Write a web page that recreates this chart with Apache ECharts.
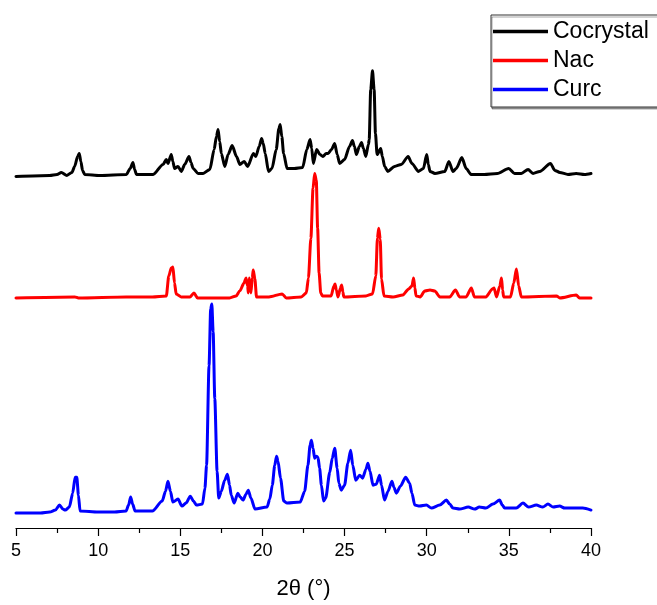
<!DOCTYPE html>
<html>
<head>
<meta charset="utf-8">
<script src="https://cdn.jsdelivr.net/npm/echarts@6/dist/echarts.min.js"></script>
<style>html,body{margin:0;padding:0;background:#fff}#c{width:657px;height:605px}</style>
</head>
<body>
<div id="c"></div>
<script>
// ---- Data (2θ in degrees, intensity in arbitrary units above each trace's baseline) ----
const curcX = [5.0,6.5,7.05,7.4,7.65,7.85,8.0,8.25,8.45,8.6,8.7,8.8,8.9,10.0,11.0,11.7,11.85,11.98,12.1,12.25,13.3,13.9,14.1,14.25,14.4,14.55,14.86,15.1,15.35,15.61,15.8,15.98,16.35,16.5,16.6,16.75,16.85,16.92,17.0,17.1,17.24,17.34,17.5,17.7,17.87,18.0,18.1,18.28,18.5,18.65,18.82,19.0,19.14,19.3,19.55,20.28,20.45,20.6,20.75,20.86,20.95,21.1,21.3,21.5,22.3,22.57,22.77,22.9,22.98,23.08,23.18,23.28,23.38,23.48,23.59,23.72,23.85,24.1,24.25,24.4,24.55,24.65,24.8,25.0,25.2,25.37,25.5,25.68,25.92,26.1,26.3,26.42,26.55,26.73,26.93,27.13,27.25,27.43,27.65,27.88,28.0,28.15,28.4,28.72,28.96,29.1,29.27,29.57,29.98,30.29,30.79,31.2,31.4,31.6,32.0,32.53,32.92,33.2,33.6,34.03,34.44,34.6,34.74,35.45,35.86,36.2,36.67,37.06,37.38,37.7,38.09,38.4,38.92,39.5,40.0];
const curcI = [0,0,1,3,8,4,3,6,20,36,36,18,2,1,1,2,8,16,9,2,2,12,22,32,22,11,14,7,10,17,12,8,9,25,48,148,205,210,182,115,42,15,22,33,39,28,18,10,20,16,13,19,23,15,4,6,14,28,48,57,52,35,12,10,11,22,48,68,73,65,55,57,56,45,28,12,15,41,55,65,45,30,23,28,50,63,48,33,38,35,44,50,42,28,29,38,28,13,22,32,26,20,27,36,30,20,8,7,8,5,8,13,9,5,4,6,4,6,5,9,13,8,5,5,10,6,8,6,9,6,7,5,5,5,3];

const nacX = [5.0,8.58,8.8,11.7,13.3,14.15,14.3,14.45,14.55,14.65,14.75,15.05,15.6,15.83,16.05,18.0,18.4,18.62,18.88,19.0,19.1,19.14,19.2,19.3,19.38,19.44,19.54,19.64,20.4,21.2,21.45,22.36,22.67,22.8,22.95,23.08,23.18,23.28,23.36,23.45,23.55,23.65,24.18,24.35,24.42,24.5,24.6,24.75,24.82,24.9,24.95,26.3,26.7,26.9,27.0,27.08,27.17,27.25,27.4,27.95,28.55,28.9,29.1,29.2,29.28,29.35,29.6,29.88,30.2,30.49,30.8,31.4,31.75,32.0,32.4,32.72,32.9,33.6,34.0,34.1,34.25,34.45,34.55,34.62,34.68,35.1,35.3,35.46,35.6,35.76,37.9,38.1,39.1,39.3,40.0];
const nacI = [0,1,0,1,1,2,22,30,31,15,4,1,1,5,0,0,2,7,15,20,12,5,20,5,20,28,19,1,1,4,0,1,5,20,60,110,125,118,70,25,5,2,2,12,14,8,1,10,13,6,1,2,4,22,60,70,59,19,2,1,3,9,12,20,10,2,1,7,8,7,1,1,8,1,1,10,1,1,9,10,1,12,20,8,1,1,15,29,12,1,2,0,3,0,0];

const cocrystalX = [5.0,7.05,7.5,7.76,8.1,8.4,8.57,8.75,8.85,8.95,9.05,9.18,10.1,11.72,11.95,12.12,12.22,12.33,13.35,13.95,14.15,14.25,14.45,14.55,14.65,14.86,15.06,15.27,15.53,15.65,15.78,16.08,16.39,16.8,17.06,17.2,17.3,17.4,17.5,17.71,17.91,18.16,18.42,18.63,18.89,19.1,19.45,19.6,19.8,19.95,20.05,20.17,20.37,20.58,20.84,21.0,21.08,21.18,21.29,21.5,21.94,22.45,22.7,22.9,23.0,23.1,23.3,23.5,23.68,23.88,24.0,24.2,24.4,24.55,24.7,25.0,25.3,25.48,25.6,25.72,25.9,26.03,26.15,26.29,26.45,26.5,26.59,26.7,26.8,26.88,26.98,27.2,27.3,27.44,27.63,28.04,28.45,28.87,29.1,29.5,29.8,30.0,30.1,30.2,30.5,31.1,31.35,31.6,31.8,32.14,32.4,32.7,33.5,34.3,34.99,35.35,35.76,36.17,36.47,36.88,37.53,37.8,38.1,38.6,39.1,39.6,40.0];
const cocrystalI = [0,1,2,4,1,4,10,20,23,15,6,2,1,2,8,14,7,2,2,12,17,13,22,15,8,10,5,12,20,14,8,3,3,7,27,40,47,35,23,10,22,31,20,12,15,10,23,20,30,38,33,23,5,8,27,48,52,40,23,8,8,9,27,37,28,13,27,22,20,23,23,27,33,22,13,17,30,36,30,22,30,34,28,20,32,37,87,106,87,43,22,28,20,10,5,10,12,20,13,5,8,22,12,5,3,5,15,5,8,19,8,2,2,3,8,3,3,7,3,5,13,6,4,2,3,2,3];

const seriesNames = ['Cocrystal', 'Nac', 'Curc'];
const xTicks = [5, 10, 15, 20, 25, 30, 35, 40];
// vertical stacking offsets of each pattern
const stackOffset = { Cocrystal: 353, Nac: 231, Curc: 15 };

function build(xs, ys, off) { return xs.map((x, i) => [x, ys[i] + off]); }

const chart = echarts.init(document.getElementById('c'), null, { renderer: 'canvas' });
const font = 'Liberation Sans, Arial, sans-serif';
const mk = (name, xs, ys, color) => ({
  name, type: 'line', data: build(xs, ys, stackOffset[name]),
  showSymbol: false, symbol: 'none', smooth: 0.25, smoothMonotone: 'x',
  lineStyle: { color, width: 3, join: 'round', cap: 'round' }, itemStyle: { color },
  silent: true, animation: false
});

chart.setOption({
  animation: false,
  backgroundColor: '#ffffff',
  grid: { left: 16, right: 66, top: 30, bottom: 75, containLabel: false },
  legend: {
    orient: 'vertical', left: 491, top: 15,
    data: seriesNames,
    icon: 'rect', itemWidth: 55, itemHeight: 3.5, itemGap: 6,
    padding: [5, 12, 6, 2],
    backgroundColor: '#ffffff', borderColor: '#333333', borderWidth: 1,
    shadowColor: 'rgba(0,0,0,0.35)', shadowOffsetX: 1, shadowOffsetY: 2, shadowBlur: 0,
    textStyle: { fontFamily: font, fontSize: 23, color: '#000' },
    itemStyle: { borderWidth: 0 }
  },
  xAxis: {
    type: 'value', min: xTicks[0], max: xTicks[xTicks.length - 1], interval: 5,
    name: '2θ (°)', nameLocation: 'middle', nameGap: 50,
    nameTextStyle: { fontFamily: font, fontSize: 22, color: '#000' },
    axisLine: { show: true, lineStyle: { color: '#000', width: 1.2 } },
    axisTick: { show: true, inside: false, length: 8, lineStyle: { color: '#000', width: 1.2 } },
    minorTick: { show: true, splitNumber: 2, length: 5, lineStyle: { color: '#000', width: 1.2 } },
    axisLabel: { fontFamily: font, fontSize: 18, color: '#000', margin: 14 },
    splitLine: { show: false }
  },
  yAxis: { type: 'value', min: 0, max: 500, show: false, splitLine: { show: false } },
  series: [
    mk('Cocrystal', cocrystalX, cocrystalI, '#000000'),
    mk('Nac', nacX, nacI, '#ff0000'),
    mk('Curc', curcX, curcI, '#0000ff')
  ]
});
</script>
</body>
</html>
